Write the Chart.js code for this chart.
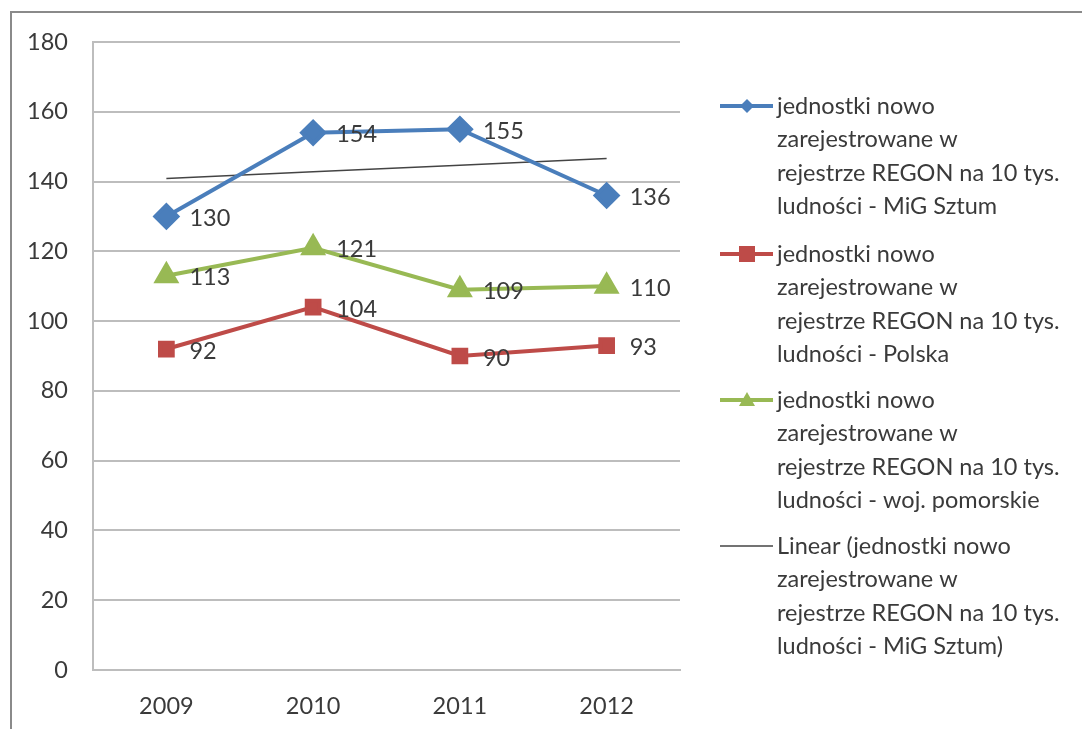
<!DOCTYPE html>
<html>
<head>
<meta charset="utf-8">
<script src="https://cdn.jsdelivr.net/npm/chart.js@4/dist/chart.umd.min.js"></script>
<style>
  html, body { margin: 0; padding: 0; background: #fff; }
  #wrap { width: 1082px; height: 729px; position: relative; }
</style>
</head>
<body>
<div id="wrap"><canvas id="regonChart" width="1082" height="729"></canvas></div>
<script>
const years = ['2009', '2010', '2011', '2012']
const sztum = [130, 154, 155, 136]
const polska = [92, 104, 90, 93]
const pomorskie = [113, 121, 109, 110]
// Excel linear trend of the Sztum series
const sztumTrend = [140.9, 142.8, 144.7, 146.6]
const yTicks = [0, 20, 40, 60, 80, 100, 120, 140, 160, 180]

const legendLabels = [
  ['jednostki nowo', 'zarejestrowane w', 'rejestrze REGON na 10 tys.', 'ludności - MiG Sztum'],
  ['jednostki nowo', 'zarejestrowane w', 'rejestrze REGON na 10 tys.', 'ludności - Polska'],
  ['jednostki nowo', 'zarejestrowane w', 'rejestrze REGON na 10 tys.', 'ludności - woj. pomorskie'],
  ['Linear (jednostki nowo', 'zarejestrowane w', 'rejestrze REGON na 10 tys.', 'ludności - MiG Sztum)']
]

const BLUE = '#4a7ebb'
const RED = '#be4b48'
const GREEN = '#98b954'
const TEXT = '#3a3a3a'
const FONT = 'Lato, "Open Sans", sans-serif'
const FONT_SIZE = 23.5

function drawMarker(ctx, style, x, y, r, color) {
  ctx.fillStyle = color
  ctx.beginPath()
  if (style === 'rectRot') {
    ctx.moveTo(x, y - r); ctx.lineTo(x + r, y); ctx.lineTo(x, y + r); ctx.lineTo(x - r, y)
  } else if (style === 'rect') {
    ctx.rect(x - r, y - r, 2 * r, 2 * r)
  } else if (style === 'triangle') {
    ctx.moveTo(x, y - r); ctx.lineTo(x + r, y + r * 0.75); ctx.lineTo(x - r, y + r * 0.75)
  }
  ctx.closePath()
  ctx.fill()
}

const frame = {
  id: 'frame',
  beforeDraw(chart) {
    const ctx = chart.ctx
    ctx.save()
    ctx.fillStyle = '#fff'
    ctx.fillRect(0, 0, chart.width, chart.height)
    ctx.strokeStyle = '#8a8a8a'
    ctx.lineWidth = 2
    ctx.beginPath()
    ctx.moveTo(11, chart.height + 2)
    ctx.lineTo(11, 12)
    ctx.lineTo(chart.width + 2, 12)
    ctx.stroke()
    ctx.restore()
  }
}

const valueLabels = {
  id: 'valueLabels',
  afterDatasetsDraw(chart) {
    const ctx = chart.ctx
    ctx.save()
    ctx.font = FONT_SIZE + 'px ' + FONT
    ctx.fillStyle = TEXT
    ctx.textAlign = 'left'
    ctx.textBaseline = 'middle'
    chart.data.datasets.forEach((ds, i) => {
      if (!ds.showValues) return
      chart.getDatasetMeta(i).data.forEach((pt, j) => {
        ctx.fillText(String(ds.data[j]), pt.x + 23, pt.y + 2)
      })
    })
    ctx.restore()
  }
}

const sideLegend = {
  id: 'sideLegend',
  afterDraw(chart) {
    const ctx = chart.ctx
    const tops = [106, 254, 400, 546]
    const lineGap = 33.5
    ctx.save()
    chart.data.datasets.forEach((ds, i) => {
      const y = tops[i]
      ctx.strokeStyle = ds.borderColor
      ctx.lineWidth = ds.borderWidth
      ctx.beginPath()
      ctx.moveTo(720, y)
      ctx.lineTo(773, y)
      ctx.stroke()
      if (ds.pointRadius > 0) drawMarker(ctx, ds.pointStyle, 747, y, ds.pointStyle === 'rectRot' ? 7 : 8, ds.borderColor)
      ctx.font = FONT_SIZE + 'px ' + FONT
      ctx.fillStyle = TEXT
      ctx.textAlign = 'left'
      ctx.textBaseline = 'middle'
      legendLabels[i].forEach((line, k) => ctx.fillText(line, 777, y + k * lineGap))
    })
    ctx.restore()
  }
}

new Chart(document.getElementById('regonChart'), {
  type: 'line',
  data: {
    labels: years,
    datasets: [
      {
        data: sztum, borderColor: BLUE, backgroundColor: BLUE, borderWidth: 4,
        pointStyle: 'rectRot', pointRadius: 11, showValues: true
      },
      {
        data: polska, borderColor: RED, backgroundColor: RED, borderWidth: 4,
        pointStyle: 'rect', pointRadius: 9, showValues: true
      },
      {
        data: pomorskie, borderColor: GREEN, backgroundColor: GREEN, borderWidth: 4,
        pointStyle: 'triangle', pointRadius: 11, showValues: true
      },
      {
        data: sztumTrend, borderColor: '#444444', borderWidth: 1.5,
        pointRadius: 0
      }
    ]
  },
  options: {
    responsive: false,
    animation: false,
    layout: { padding: { top: 42, right: 402, left: 0, bottom: 0 } },
    elements: { line: { tension: 0 }, point: { borderWidth: 0, hoverRadius: 11 } },
    plugins: { legend: { display: false }, tooltip: { enabled: false } },
    scales: {
      x: {
        offset: true,
        grid: { display: false, drawTicks: false },
        border: { display: true, color: '#bdbdbd', width: 2 },
        ticks: { color: TEXT, font: { family: FONT, size: FONT_SIZE }, padding: 22 },
        afterFit(scale) { scale.height = 59 }
      },
      y: {
        min: 0, max: 180,
        afterBuildTicks(scale) { scale.ticks = yTicks.map(v => ({ value: v })) },
        grid: { color: '#bdbdbd', lineWidth: 2, drawTicks: false },
        border: { display: true, color: '#bdbdbd', width: 2 },
        ticks: { color: TEXT, font: { family: FONT, size: FONT_SIZE }, padding: 25 },
        afterFit(scale) { scale.width = 93 }
      }
    }
  },
  plugins: [frame, valueLabels, sideLegend]
})
</script>
</body>
</html>
